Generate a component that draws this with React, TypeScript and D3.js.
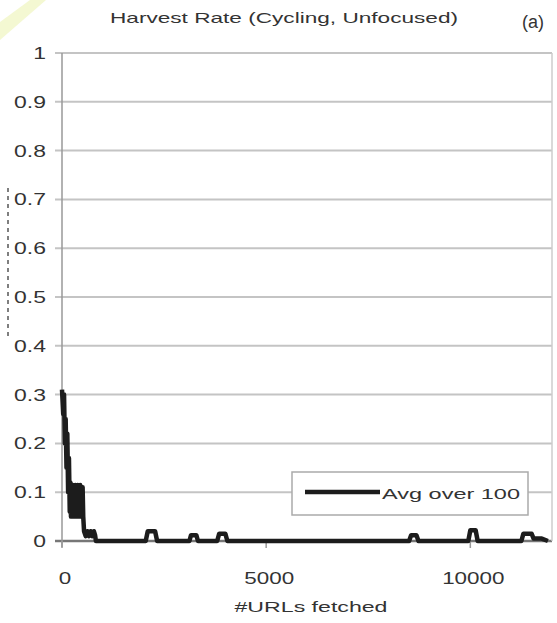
import * as d3 from "d3";

// harvest rate, averaged over 100 fetched URLs
const urls = [0, 30, 50, 70, 90, 110, 130, 150, 170, 190, 205, 220, 235, 250, 265, 280, 295, 310, 325, 340, 355, 370, 385, 400, 415, 430, 445, 460, 475, 490, 505, 520,
  540, 580, 620, 660, 700, 740, 780, 810, 830,
  2050, 2100, 2280, 2330, 3120, 3160, 3290, 3330, 3800, 3850, 4000, 4050, 8500, 8550, 8680, 8730,
  9950, 10000, 10130, 10180, 11250, 11300, 11500, 11550, 11750, 11900];
const rate = [0.31, 0.26, 0.3, 0.2, 0.25, 0.15, 0.22, 0.1, 0.17, 0.06, 0.12, 0.05, 0.11, 0.05, 0.115, 0.05, 0.11, 0.055, 0.115, 0.05, 0.11, 0.05, 0.115, 0.055, 0.11, 0.05, 0.115, 0.05, 0.11, 0.055, 0.11, 0.05,
  0.02, 0.01, 0.02, 0.01, 0.02, 0.01, 0.02, 0.012, 0,
  0, 0.02, 0.02, 0, 0, 0.012, 0.012, 0, 0, 0.015, 0.015, 0, 0, 0.012, 0.012, 0,
  0, 0.022, 0.022, 0, 0, 0.015, 0.015, 0.005, 0.005, 0];

const yTicks = [0, 0.1, 0.2, 0.3, 0.4, 0.5, 0.6, 0.7, 0.8, 0.9, 1];
const xTicks = [0, 5000, 10000];
const title = "Harvest Rate (Cycling, Unfocused)";
const xLabel = "#URLs fetched";
const seriesName = "Avg over 100";

const width = 557, height = 623;
const marginLeft = 62, marginRight = 5, marginTop = 53, marginBottom = 82;

export default function App() {
  const x = d3.scaleLinear([0, 12000], [marginLeft, width - marginRight]);
  const y = d3.scaleLinear([0, 1], [height - marginBottom, marginTop]);
  const pts = urls.map((u, i) => [u, rate[i]] as [number, number]);
  const line = d3.line<[number, number]>().x(d => x(d[0])).y(d => y(d[1]));
  const font = "'Liberation Sans', Arial, sans-serif";
  const ink = "#333";

  return (
    <svg width={width} height={height} style={{position: "absolute", left: 0, top: 0, background: "#fff"}} fontFamily={font}>
      {/* scan artefacts */}
      <polygon points="0,22 30,0 46,0 0,40" fill="#f4f8d2"/>
      <line x1={8} x2={8} y1={188} y2={340} stroke="#555" strokeWidth={1.5} strokeDasharray="4,4"/>

      <text x={284} y={23} textAnchor="middle" fontSize={15} fill={ink} textLength={348} lengthAdjust="spacingAndGlyphs">{title}</text>
      <text x={533} y={28} textAnchor="middle" fontSize={18} fill={ink}>(a)</text>

      {yTicks.map(t => (
        <g key={t}>
          <line x1={55} x2={width - marginRight} y1={y(t)} y2={y(t)} stroke={t === 0 ? "#777" : "#c4c4c4"} strokeWidth={t === 0 ? 2.5 : 2}/>
          <text x={46} y={y(t) + 6} textAnchor="end" fontSize={17} fill={ink}
                transform={`translate(46,0) scale(1.35,1) translate(-46,0)`}>{t}</text>
        </g>
      ))}
      <line x1={marginLeft} x2={marginLeft} y1={marginTop} y2={y(0) + 6} stroke="#999" strokeWidth={1.5}/>
      <line x1={width - marginRight} x2={width - marginRight} y1={marginTop} y2={y(0)} stroke="#ccc" strokeWidth={1.5}/>

      {xTicks.map(t => (
        <g key={t}>
          <line x1={x(t)} x2={x(t)} y1={y(0)} y2={y(0) + 7} stroke="#999" strokeWidth={1.5}/>
          <text x={x(t) + 3} y={y(0) + 43} textAnchor="middle" fontSize={17} fill={ink}
                transform={`translate(${x(t) + 3},0) scale(1.32,1) translate(${-(x(t) + 3)},0)`}>{t}</text>
        </g>
      ))}
      <text x={311} y={612} textAnchor="middle" fontSize={15} fill={ink} textLength={153} lengthAdjust="spacingAndGlyphs">{xLabel}</text>

      <path d={line(pts) ?? ""} fill="none" stroke="#1c1c1c" strokeWidth={4.5} strokeLinejoin="round"/>

      <g>
        <rect x={292} y={472} width={236} height={43} fill="#fff" stroke="#aaa" strokeWidth={1.5}/>
        <line x1={305} x2={380} y1={492} y2={492} stroke="#1c1c1c" strokeWidth={4.5}/>
        <text x={382} y={499} fontSize={15} fill={ink} textLength={138} lengthAdjust="spacingAndGlyphs">{seriesName}</text>
      </g>
    </svg>
  );
}
